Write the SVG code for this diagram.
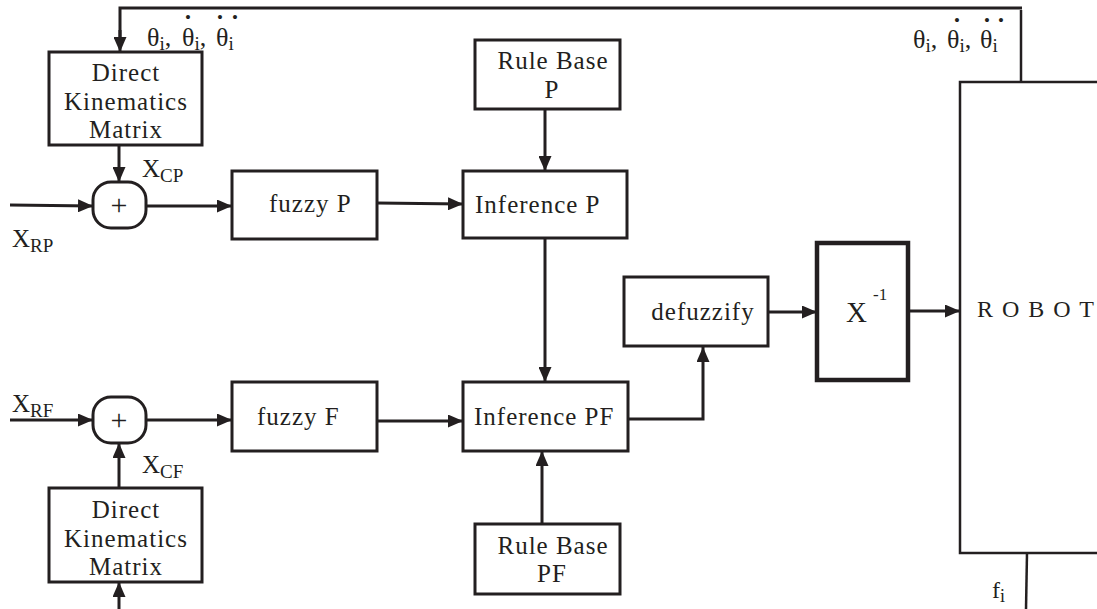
<svg xmlns="http://www.w3.org/2000/svg" width="1097" height="609" viewBox="0 0 1097 609" font-family="'Liberation Serif', 'Times New Roman', 'DejaVu Serif', serif">
<style>
.box{fill:#fff;stroke:#231f20;stroke-width:3}
.thick{fill:#fff;stroke:#231f20;stroke-width:4.5}
.thin{fill:#fff;stroke:#231f20;stroke-width:2.5}
.ln{fill:none;stroke:#231f20;stroke-width:3}
.arr{fill:none;stroke:#231f20;stroke-width:3;marker-end:url(#ah)}
text{fill:#231f20}
.t{font-size:25px;letter-spacing:1px}
.c{text-anchor:middle}
.dot{font-size:17px}
.sub{font-size:19px}
</style>
<defs>
<marker id="ah" markerUnits="userSpaceOnUse" markerWidth="15" markerHeight="13" refX="15" refY="6.5" orient="auto">
<path d="M0,0 L15,6.5 L0,13 z" fill="#231f20"/>
</marker>
</defs>

<g id="connectors">
<path class="ln" d="M1022,8 L120,8 L120,38"/>
<path class="arr" d="M120,30 L120,52"/>
<path d="M1021,10 L1021,82" fill="none" stroke="#231f20" stroke-width="2.5"/>
<path class="arr" d="M119,145 L119,182"/>
<path class="arr" d="M10,205 L93,206"/>
<path class="arr" d="M146,206 L232,206"/>
<path class="arr" d="M377,203 L463,204"/>
<path class="arr" d="M545,109 L545,171"/>
<path class="arr" d="M545,238 L545,382"/>
<path class="arr" d="M10,420 L93,420"/>
<path class="arr" d="M146,420 L232,420"/>
<path class="arr" d="M377,421 L463,421"/>
<path class="arr" d="M119,488 L119,443"/>
<path class="arr" d="M119,609 L119,582"/>
<path class="arr" d="M542,524 L542,451"/>
<path class="arr" d="M628,419 L703,419 L703,347"/>
<path class="arr" d="M768,312 L817,312"/>
<path class="arr" d="M908,311 L960,311"/>
<path d="M1027,553 L1026,609" fill="none" stroke="#231f20" stroke-width="2.5"/>
</g>

<g id="labels">
<text font-size="26"><tspan x="147" y="46">θ</tspan><tspan class="sub" y="50">i</tspan><tspan y="46">,</tspan><tspan class="dot" x="185" y="23">•</tspan><tspan x="182" y="46">θ</tspan><tspan class="sub" y="50">i</tspan><tspan y="46">,</tspan><tspan class="dot" x="217" y="23">•</tspan><tspan class="dot" x="232" y="23">•</tspan><tspan x="216" y="46">θ</tspan><tspan class="sub" y="50">i</tspan></text>
<text font-size="26"><tspan x="913" y="48">θ</tspan><tspan class="sub" y="52">i</tspan><tspan y="48">,</tspan><tspan class="dot" x="954" y="26">•</tspan><tspan x="947" y="48">θ</tspan><tspan class="sub" y="52">i</tspan><tspan y="48">,</tspan><tspan class="dot" x="984" y="26">•</tspan><tspan class="dot" x="998" y="26">•</tspan><tspan x="980" y="48">θ</tspan><tspan class="sub" y="52">i</tspan></text>
<text x="12" y="247" font-size="25">X<tspan class="sub" dy="5">RP</tspan></text>
<text x="142" y="177" font-size="25">X<tspan class="sub" dy="5">CP</tspan></text>
<text x="12" y="412" font-size="25">X<tspan class="sub" dy="5">RF</tspan></text>
<text x="142" y="473" font-size="25">X<tspan class="sub" dy="5">CF</tspan></text>
<text x="992" y="598" font-size="24">f<tspan font-size="18" dy="4">i</tspan></text>
</g>

<g id="dkm-p">
<rect class="box" x="49" y="52" width="153" height="93"/>
<text class="t c" x="126" y="81">Direct</text>
<text class="t c" x="126" y="110">Kinematics</text>
<text class="t c" x="126" y="138">Matrix</text>
</g>

<g id="sum-p">
<rect class="box" x="93" y="182" width="53" height="46" rx="18"/>
<text class="c" x="119" y="215" font-size="30">+</text>
</g>

<g id="fuzzy-p">
<rect class="box" x="232" y="171" width="145" height="68"/>
<text class="t" x="269" y="212">fuzzy  P</text>
</g>

<g id="rulebase-p">
<rect class="box" x="475" y="40" width="145" height="69"/>
<text class="t c" x="553" y="69">Rule Base</text>
<text class="t c" x="552" y="98">P</text>
</g>

<g id="inference-p">
<rect class="box" x="463" y="171" width="164" height="67"/>
<text class="t" x="475" y="213">Inference  P</text>
</g>

<g id="sum-f">
<rect class="box" x="93" y="397" width="53" height="46" rx="18"/>
<text class="c" x="119" y="430" font-size="30">+</text>
</g>

<g id="fuzzy-f">
<rect class="box" x="232" y="382" width="145" height="69"/>
<text class="t" x="257" y="425">fuzzy  F</text>
</g>

<g id="inference-pf">
<rect class="box" x="463" y="382" width="165" height="69"/>
<text class="t" x="474" y="425">Inference  PF</text>
</g>

<g id="dkm-f">
<rect class="box" x="49" y="488" width="153" height="94"/>
<text class="t c" x="126" y="518">Direct</text>
<text class="t c" x="126" y="547">Kinematics</text>
<text class="t c" x="126" y="575">Matrix</text>
</g>

<g id="rulebase-pf">
<rect class="box" x="475" y="524" width="145" height="70"/>
<text class="t c" x="553" y="554">Rule Base</text>
<text class="t c" x="552" y="582">PF</text>
</g>

<g id="defuzzify">
<rect class="box" x="624" y="277" width="144" height="69"/>
<text class="t c" x="703" y="320">defuzzify</text>
</g>

<g id="xinv">
<rect class="thick" x="817" y="243" width="91" height="137"/>
<text x="846" y="322" font-size="29">X</text>
<text x="873" y="300" font-size="17">-1</text>
</g>

<g id="robot">
<rect class="thin" x="960" y="82" width="160" height="471"/>
<text x="977" y="317" font-size="24" letter-spacing="1.5">R O B O T</text>
</g>
</svg>
